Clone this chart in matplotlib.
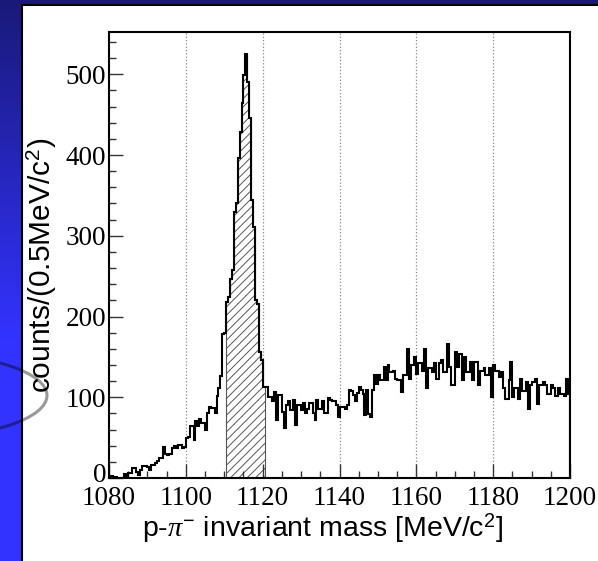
import numpy as np
import matplotlib.pyplot as plt
import matplotlib.transforms as mtransforms
from matplotlib.patches import Rectangle, Ellipse
from matplotlib.ticker import MultipleLocator

plt.rcParams['mathtext.fontset'] = 'custom'
plt.rcParams['mathtext.rm'] = 'Liberation Sans'
plt.rcParams['mathtext.it'] = 'Liberation Serif:italic'
plt.rcParams['hatch.linewidth'] = 0.7

# p-pi- invariant mass, 0.5 MeV bins from 1080 to 1200 MeV
mass_lo, mass_hi, bin_w = 1080.0, 1200.0, 0.5
counts = np.array([
    0, 2, 1, 1, 0, 0, 0, 0, 5, 3,
    6, 6, 13, 12, 8, 4, 10, 15, 15, 15,
    14, 10, 16, 16, 19, 21, 25, 25, 39, 30,
    28, 30, 30, 37, 40, 37, 41, 41, 37, 38,
    50, 51, 64, 64, 47, 70, 64, 73, 68, 68,
    59, 80, 88, 87, 87, 81, 101, 111, 126, 178,
    180, 218, 224, 247, 257, 329, 341, 396, 428, 465,
    499, 525, 490, 446, 344, 311, 220, 215, 156, 146,
    113, 113, 113, 100, 100, 95, 107, 72, 103, 103,
    82, 62, 90, 95, 84, 84, 97, 66, 90, 90,
    84, 93, 80, 86, 93, 93, 80, 72, 97, 86,
    86, 95, 80, 80, 99, 97, 95, 95, 90, 76,
    88, 88, 88, 86, 90, 109, 108, 103, 95, 105,
    113, 109, 104, 78, 109, 79, 76, 109, 127, 117,
    127, 121, 121, 137, 121, 140, 131, 131, 133, 123,
    121, 121, 107, 127, 127, 160, 123, 140, 140, 150,
    129, 142, 142, 133, 160, 111, 136, 136, 131, 142,
    123, 123, 142, 146, 131, 131, 166, 137, 115, 115,
    156, 137, 154, 154, 121, 150, 131, 131, 144, 121,
    144, 144, 115, 133, 133, 136, 127, 127, 136, 100,
    140, 133, 133, 125, 131, 111, 98, 98, 121, 144,
    100, 111, 111, 98, 123, 108, 108, 119, 86, 115,
    119, 119, 123, 92, 115, 115, 119, 115, 104, 104,
    115, 111, 102, 102, 111, 104, 104, 102, 123, 104,
])
edges = np.arange(mass_lo, mass_hi + bin_w / 2, bin_w)

# Lambda selection window (hatched part)
sig_lo, sig_hi = 1110.5, 1120.5

x_ticks = [1080, 1100, 1120, 1140, 1160, 1180, 1200]
y_ticks = [0, 100, 200, 300, 400, 500]
grid_x = [1100, 1120, 1140, 1160, 1180]

W, H = 598, 561
fig = plt.figure(figsize=(W / 100, H / 100), dpi=100)

# slide background: blue gradient, white panel, gray ring
bg = fig.add_axes([0, 0, 1, 1], zorder=-10)
bg.set_xlim(0, W)
bg.set_ylim(H, 0)
bg.axis('off')
t = np.clip(np.linspace(0, 1, 200) / 0.6, 0, 1)[:, None]
top_c = np.array([0.10, 0.10, 0.48])
bot_c = np.array([0.20, 0.20, 1.00])
grad = top_c + (bot_c - top_c) * t[..., None]
grad = np.repeat(grad, 2, axis=1)
bg.imshow(grad, extent=[0, W, H, 0], aspect='auto', interpolation='bilinear')
bg.add_patch(Rectangle((22, 5), 700, 700, facecolor='white', edgecolor='black', linewidth=1.5))
bg.add_patch(Ellipse((-81, 395.5), 256, 84, fill=False, edgecolor='black', alpha=0.4, linewidth=2.2))

ax = fig.add_axes([109 / W, 1 - 478 / H, (570 - 109) / W, (478 - 32.3) / H])
ax.set_facecolor('white')

for gx in grid_x:
    ax.axvline(gx, color='#8a8a8a', linestyle=':', linewidth=0.9, zorder=0)

sel = (edges[:-1] >= sig_lo) & (edges[:-1] < sig_hi)
i0 = np.argmax(sel)
i1 = i0 + sel.sum()
ax.stairs(counts[i0:i1], edges[i0:i1 + 1], fill=True, facecolor='white',
          edgecolor='#555555', hatch='////', linewidth=0.8, zorder=1)
ax.stairs(counts, edges, color='black', linewidth=1.5, zorder=2)

ax.set_xlim(mass_lo, mass_hi)
ax.set_ylim(0, 552)
ax.set_xticks(x_ticks)
ax.set_yticks(y_ticks)
ax.xaxis.set_minor_locator(MultipleLocator(5))
ax.yaxis.set_minor_locator(MultipleLocator(20))
ax.tick_params(which='both', direction='in', top=False, right=False, width=1.0, color='#333333')
ax.tick_params(which='major', length=10)
ax.tick_params(which='minor', length=5)
ax.tick_params(axis='x', pad=6)
ax.tick_params(axis='y', pad=2)
for lab in ax.get_xticklabels() + ax.get_yticklabels():
    lab.set_fontfamily('Liberation Serif')
    lab.set_fontsize(19.5)
for sp in ax.spines.values():
    sp.set_linewidth(1.5)

# ROOT lifts the "0" label a little above the corner
zero_lab = ax.yaxis.get_major_ticks()[0].label1
zero_lab.set_transform(mtransforms.offset_copy(zero_lab.get_transform(), fig=fig,
                                               x=0, y=5, units='dots'))

ax.set_xlabel(r'p-$\pi^{-}$ invariant mass [MeV/c$^{2}$]', fontsize=20.5,
              family='Liberation Sans')
ax.set_ylabel(r'counts/(0.5MeV/c$^{2}$)', fontsize=21.5,
              family='Liberation Sans')
ax.xaxis.set_label_coords((323 - 109) / 461, -0.075)
ax.yaxis.set_label_coords(-0.108, (478 - 265) / 445.7)

fig.savefig('out.png', dpi=100)
